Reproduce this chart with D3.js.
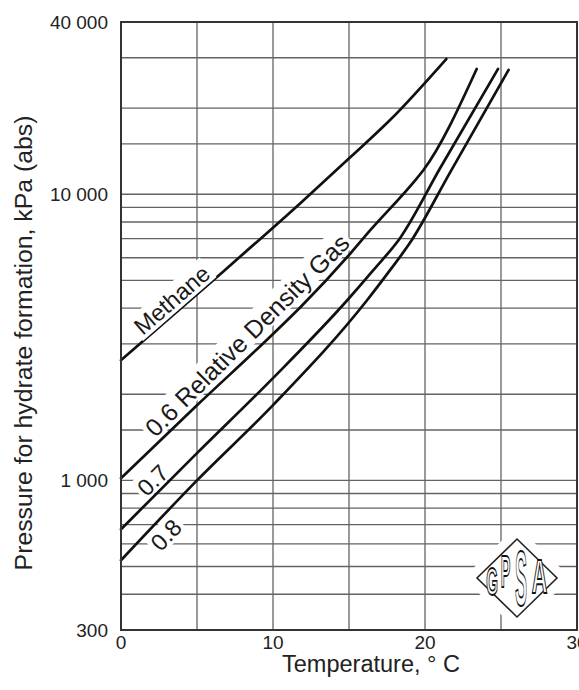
<!DOCTYPE html>
<html>
<head>
<meta charset="utf-8">
<script src="https://cdn.jsdelivr.net/npm/d3@7"></script>
<style>
  html, body { margin: 0; padding: 0; background: #fff; }
  svg { display: block; font-family: "Liberation Sans", Arial, Helvetica, sans-serif; }
</style>
</head>
<body>
<svg id="chart" width="579" height="690"></svg>
<script>
// Hydrate formation pressure vs. temperature for methane and natural gases
const tempDomain = [0, 30];
const pressDomain = [300, 40000];

const xTickValues = [0, 10, 20, 30];
const xGridValues = [5, 10, 15, 20, 25];
const yTickValues = [300, 1000, 10000, 40000];
const yGridValues = [400, 500, 600, 700, 800, 900, 1000, 1500, 2000, 3000, 4000,
                     5000, 6000, 7000, 8000, 9000, 10000, 15000, 20000, 30000];

// Curves: temperature (°C) and hydrate formation pressure (kPa abs)
const methaneT = [0, 6.6, 11.8, 15.1, 17.7, 21.4];
const methaneP = [2630, 5300, 9310, 13490, 18170, 29700];

const gas06T = [0, 5, 10, 11.8, 15.1, 16.4, 19.2, 19.9, 23.4];
const gas06P = [1018, 1830, 3250, 4030, 6220, 7490, 10940, 12150, 27400];

const gas07T = [0, 5, 10, 14.9, 16.6, 18.4, 21, 24.8];
const gas07P = [675, 1245, 2277, 4270, 5430, 7080, 12350, 27400];

const gas08T = [0, 5, 10, 16.2, 17.7, 19.0, 21.7, 25.5];
const gas08P = [526, 1000, 1832, 4270, 5430, 6750, 12050, 27200];

const curveNames = ["Methane", "0.6 Relative Density Gas", "0.7", "0.8"];
const curveLabelT = [1.6, 2.5, 1.9, 1.5];

const svg = d3.select("#chart");
const x = d3.scaleLinear().domain(tempDomain).range([121, 577]);
const y = d3.scaleLog().domain(pressDomain).range([630, 22]);

// side: -1 = label above the curve, +1 = below it
const series = [
  { name: curveNames[0], t: methaneT, p: methaneP, labelT: curveLabelT[0], side: -1, gap: 4, cover: 0.2, size: 23.5 },
  { name: curveNames[1], t: gas06T, p: gas06P, labelT: curveLabelT[1], side: -1, gap: 5, cover: 2.4, size: 25 },
  { name: curveNames[2], t: gas07T, p: gas07P, labelT: curveLabelT[2], side: -1, gap: 4, cover: 1.8, size: 23.5 },
  { name: curveNames[3], t: gas08T, p: gas08P, labelT: curveLabelT[3], side: 1, gap: 23.5, cover: 2.4, size: 23.5 }
];

// grid
const grid = svg.append("g").attr("stroke", "#636363").attr("stroke-width", 1.3);
grid.selectAll("line.v").data(xGridValues).join("line")
  .attr("x1", d => x(d)).attr("x2", d => x(d))
  .attr("y1", y(pressDomain[0])).attr("y2", y(pressDomain[1]));
grid.selectAll("line.h").data(yGridValues).join("line")
  .attr("x1", x(tempDomain[0])).attr("x2", x(tempDomain[1]))
  .attr("y1", d => y(d)).attr("y2", d => y(d));

// curves
const line = d3.line().x(d => x(d[0])).y(d => y(d[1])).curve(d3.curveMonotoneX);
series.forEach(s => {
  s.pts = s.t.map((t, i) => [t, s.p[i]]);
  svg.append("path").datum(s.pts)
    .attr("d", line).attr("fill", "none")
    .attr("stroke", "#111").attr("stroke-width", 2.7)
    .attr("stroke-linecap", "round");
});

// position on a curve at temperature t (log-linear between points)
function pointAt(s, t) {
  let i = 0;
  while (i < s.t.length - 2 && t > s.t[i + 1]) i++;
  const f = (t - s.t[i]) / (s.t[i + 1] - s.t[i]);
  const lp = Math.log10(s.p[i]) + f * (Math.log10(s.p[i + 1]) - Math.log10(s.p[i]));
  return [x(t), y(Math.pow(10, lp))];
}

// curve labels, laid along the chord of each curve on a white backing
series.forEach(s => {
  const g = svg.append("g");
  const rect = g.append("rect").attr("fill", "#fff");
  const txt = g.append("text").attr("x", 0).attr("y", s.side * s.gap)
    .attr("font-size", s.size).attr("fill", "#1a1a1a").text(s.name);
  const w = txt.node().getComputedTextLength();
  const a = pointAt(s, s.labelT);
  // find where the curve lies one text-length away from the start
  let t2 = s.labelT;
  while (t2 < 30) {
    const b = pointAt(s, t2);
    if (Math.hypot(b[0] - a[0], b[1] - a[1]) >= w) break;
    t2 += 0.05;
  }
  const b = pointAt(s, t2);
  const ang = Math.atan2(b[1] - a[1], b[0] - a[0]) * 180 / Math.PI;
  g.attr("transform", `translate(${a[0]},${a[1]}) rotate(${ang})`);
  const bb = txt.node().getBBox();
  if (s.side < 0) {
    const top = bb.y - 1, bottom = -s.cover;
    rect.attr("y", top).attr("height", bottom - top);
  } else {
    const top = s.cover, bottom = bb.y + bb.height - 2;
    rect.attr("y", top).attr("height", bottom - top);
  }
  rect.attr("x", bb.x - 3).attr("width", bb.width + 6);
});

// GPSA emblem
const lx = 517, ly = 578;
const logo = svg.append("g");
logo.append("path")
  .attr("d", `M${lx},${ly - 52} L${lx + 54},${ly} L${lx},${ly + 52} L${lx - 54},${ly} Z`)
  .attr("fill", "#fff");
logo.append("path")
  .attr("d", `M${lx},${ly - 39} L${lx + 40},${ly} L${lx},${ly + 39} L${lx - 40},${ly} Z`)
  .attr("fill", "#fff").attr("stroke", "#222").attr("stroke-width", 1.6);
// letter, centre x offset, baseline y offset, horizontal and vertical stretch
const logoLetters = [["G", -25, 17, 0.5, 1.3], ["P", -11.5, 9, 0.48, 1.48],
                     ["S", 4, 27, 0.6, 2.6], ["A", 22.5, 15, 0.72, 1.6]];
logoLetters.forEach(([ch, dx, dy, sx, sy]) => {
  logo.append("text")
    .attr("transform", `translate(${lx + dx},${ly + dy}) scale(${sx},${sy})`)
    .attr("font-size", 30).attr("font-weight", "bold")
    .attr("fill", "#fff").attr("stroke", "#111").attr("stroke-width", 1.4)
    .attr("vector-effect", "non-scaling-stroke")
    .attr("text-anchor", "middle").text(ch);
});

// frame
svg.append("rect")
  .attr("x", x(tempDomain[0])).attr("y", y(pressDomain[1]))
  .attr("width", x(tempDomain[1]) - x(tempDomain[0]))
  .attr("height", y(pressDomain[0]) - y(pressDomain[1]))
  .attr("fill", "none").attr("stroke", "#333").attr("stroke-width", 2);

// tick labels
const fmt = d => d3.format(",")(d).replace(/,/g, " ");
svg.append("g").selectAll("text").data(yTickValues).join("text")
  .attr("x", 108).attr("y", d => y(d)).attr("dy", "0.35em")
  .attr("text-anchor", "end").attr("font-size", 19).attr("fill", "#222")
  .text(fmt);
svg.append("g").selectAll("text").data(xTickValues).join("text")
  .attr("x", d => x(d)).attr("y", 649)
  .attr("text-anchor", "middle").attr("font-size", 19).attr("fill", "#222")
  .text(d => d);

// axis titles
svg.append("text").attr("x", 371).attr("y", 672)
  .attr("text-anchor", "middle").attr("font-size", 23.5).attr("fill", "#222")
  .text("Temperature, ° C");
svg.append("text").attr("transform", "translate(32,343) rotate(-90)")
  .attr("text-anchor", "middle").attr("font-size", 24.8).attr("fill", "#222")
  .text("Pressure for hydrate formation, kPa (abs)");
</script>
</body>
</html>
